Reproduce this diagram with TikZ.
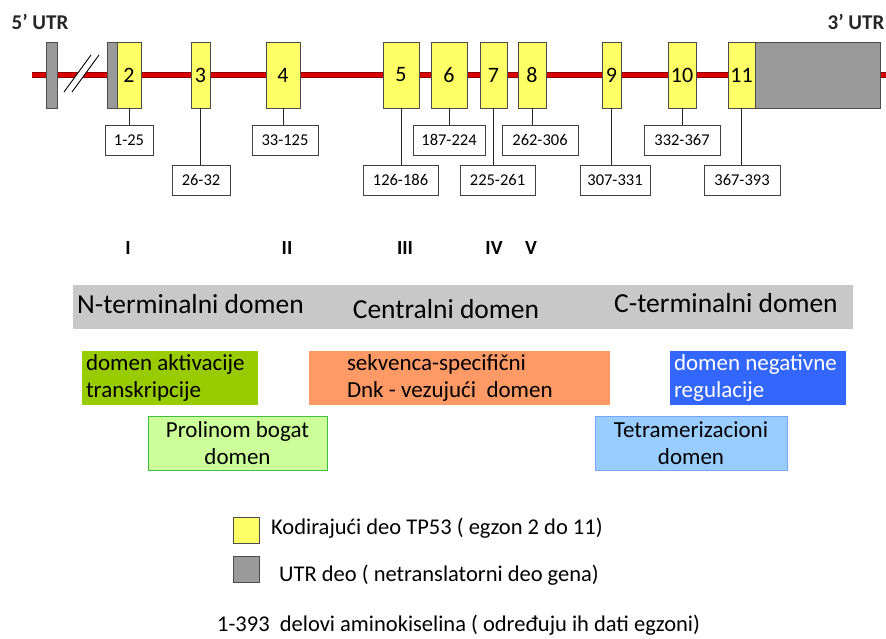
\documentclass[tikz,border=0pt]{standalone}
\usepackage{fontspec}
\setmainfont{Carlito}
\usepackage{xcolor}
\usetikzlibrary{positioning}

\definecolor{exonyellow}{HTML}{FFFF66}
\definecolor{utrgray}{HTML}{9A9A9A}
\definecolor{bandgray}{HTML}{C8C8C8}
\definecolor{actgreen}{HTML}{99CC00}
\definecolor{progreen}{HTML}{CCFF99}
\definecolor{dnaorange}{HTML}{FF9966}
\definecolor{negblue}{HTML}{3366FF}
\definecolor{tetblue}{HTML}{99CCFF}

\begin{document}
\begin{tikzpicture}[x=1pt, y=-1pt,
  exon/.style={rectangle, draw=gray!60!black, fill=exonyellow,
               minimum height=66pt, inner sep=0pt,
               font=\fontsize{22}{24}\selectfont},
  utr/.style={rectangle, draw=gray!60!black, fill=utrgray,
              minimum height=66pt, inner sep=0pt},
  aa/.style={rectangle, draw=gray!50!black, fill=white,
             minimum height=30pt, inner sep=0pt,
             font=\fontsize{16.5}{18}\selectfont},
  dom/.style={rectangle, minimum height=54pt, inner ysep=0pt,
              font=\fontsize{23}{27}\selectfont},
  roman/.style={font=\fontsize{20}{22}\selectfont\bfseries},
  link/.style={draw=gray!30!black, line width=0.8pt}
]
\useasboundingbox (0,0) rectangle (886,639);

% Gene line
\coordinate (gs) at (32,75);
\coordinate (ge) at (886,75);
\draw[line width=6.5pt, red!55!black] (gs) -- (ge);
\draw[line width=3.5pt, red!85!black] (gs) -- (ge);

% Break
\coordinate (b1) at (64,92);
\coordinate (b2) at (91,55);
\coordinate (b3) at (99,55);
\coordinate (b4) at (72,92);
\fill[white] (b1) -- (b2) -- (b3) -- (b4) -- cycle;
\draw[line width=0.9pt] (b1) -- (b2);
\draw[line width=0.9pt] (b4) -- (b3);

% UTR labels
\node[font=\fontsize{21}{23}\selectfont\bfseries, text=gray!30!black] (l5) at (40,22) {5' UTR};
\node[font=\fontsize{21}{23}\selectfont\bfseries, text=gray!30!black] (l3) at (856,22) {3' UTR};

% UTR parts
\node[utr, minimum width=11pt] (u1) at (51.5,75) {};
\node[utr, minimum width=10pt] (u2) at (112,75) {};
\node[utr, minimum width=125pt] (u3) at (817.5,75) {};

% Exons
\node[exon, minimum width=24pt] (e2) at (129,75) {2};
\node[exon, minimum width=19pt] (e3) at (200.5,75) {3};
\node[exon, minimum width=34pt] (e4) at (283,75) {4};
\node[exon, minimum width=36pt] (e5) at (401,75) {5};
\node[exon, minimum width=36pt] (e6) at (449,75) {6};
\node[exon, minimum width=27pt] (e7) at (493.5,75) {7};
\node[exon, minimum width=28pt] (e8) at (532,75) {8};
\node[exon, minimum width=19pt] (e9) at (611.5,75) {9};
\node[exon, minimum width=28pt] (e10) at (682,75) {10};
\node[exon, minimum width=27pt] (e11) at (741.5,75) {11};

% Amino acid ranges
\node[aa, minimum width=48pt] (a2) at (129,140) {1-25};
\node[aa, minimum width=58pt] (a3) at (201,180) {26-32};
\node[aa, minimum width=66pt] (a4) at (285,140) {33-125};
\node[aa, minimum width=75pt] (a5) at (400.5,180) {126-186};
\node[aa, minimum width=72pt] (a6) at (449,140) {187-224};
\node[aa, minimum width=75pt] (a7) at (497.5,180) {225-261};
\node[aa, minimum width=76pt] (a8) at (540,140) {262-306};
\node[aa, minimum width=70pt] (a9) at (615,180) {307-331};
\node[aa, minimum width=76pt] (a10) at (682,140) {332-367};
\node[aa, minimum width=76pt] (a11) at (742,180) {367-393};

\foreach \i in {2,...,11}
  \draw[link] (e\i) -- (e\i |- a\i.north);

% Conserved regions
\node[roman] (r1) at (128,248) {I};
\node[roman] (r2) at (287,248) {II};
\node[roman] (r3) at (405,248) {III};
\node[roman] (r4) at (494,248) {IV};
\node[roman] (r5) at (531,248) {V};

% Main domains
\node[rectangle, fill=bandgray, minimum width=780pt, minimum height=44pt] (band) at (463,307) {};
\node[anchor=west, inner sep=0pt, font=\fontsize{27.5}{29}\selectfont] (nterm) at (77,304) {N-terminalni domen};
\node[inner sep=0pt, font=\fontsize{27.5}{29}\selectfont] (central) at (446,309) {Centralni domen};
\node[anchor=west, inner sep=0pt, font=\fontsize{27.5}{29}\selectfont] (cterm) at (614,303) {C-terminalni domen};

% Functional domains
\node[dom, fill=actgreen, text width=168pt, inner xsep=4pt, align=flush left] (act) at (170,378)
      {domen aktivacije\\transkripcije};
\node[dom, fill=dnaorange, text width=225pt, inner xsep=38pt, align=flush left] (dna) at (459.5,378)
      {sekvenca-specifični\\Dnk - vezujući\ \ domen};
\node[dom, fill=negblue, text=white, text width=168pt, inner xsep=4pt, align=flush left] (neg) at (758,378)
      {domen negativne\\regulacije};
\node[dom, fill=progreen, draw=green!50!gray, text width=169pt, inner xsep=5pt, align=flush center] (pro) at (237.5,443)
      {Prolinom bogat\\domen};
\node[dom, fill=tetblue, draw=tetblue!80!blue, text width=182pt, inner xsep=5pt, align=flush center] (tet) at (691,443)
      {Tetramerizacioni\\domen};

% Legend
\node[rectangle, draw=gray!60!black, fill=exonyellow, minimum size=26pt, inner sep=0pt] (ky) at (246,530) {};
\node[anchor=west, inner sep=0pt, font=\fontsize{22.5}{24}\selectfont] (kyt) at (271,528)
      {Kodirajući deo TP53 ( egzon 2 do 11)};
\node[rectangle, draw=gray!60!black, fill=utrgray, minimum size=26pt, inner sep=0pt] (kg) at (246,569) {};
\node[anchor=west, inner sep=0pt, font=\fontsize{22.5}{24}\selectfont] (kgt) at (279,575)
      {UTR deo ( netranslatorni deo gena)};
\node[anchor=west, inner sep=0pt, font=\fontsize{22.5}{24}\selectfont] (note) at (217,625)
      {1-393\ \ delovi aminokiselina ( određuju ih dati egzoni)};
\end{tikzpicture}
\end{document}
